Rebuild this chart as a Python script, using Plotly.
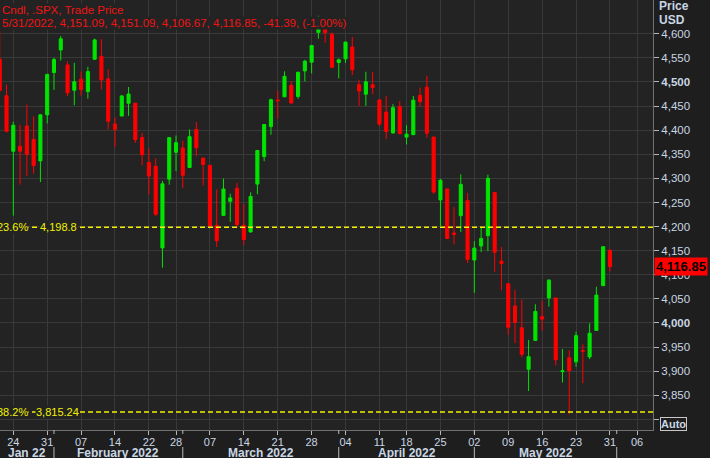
import plotly.graph_objects as go

# ---------------- data (S&P 500 daily candles) ----------------
dates = [
    "2022-01-20", "2022-01-21", "2022-01-24", "2022-01-25", "2022-01-26", "2022-01-27", "2022-01-28",
    "2022-01-31", "2022-02-01", "2022-02-02", "2022-02-03", "2022-02-04",
    "2022-02-07", "2022-02-08", "2022-02-09", "2022-02-10", "2022-02-11",
    "2022-02-14", "2022-02-15", "2022-02-16", "2022-02-17", "2022-02-18",
    "2022-02-22", "2022-02-23", "2022-02-24", "2022-02-25",
    "2022-02-28", "2022-03-01", "2022-03-02", "2022-03-03", "2022-03-04",
    "2022-03-07", "2022-03-08", "2022-03-09", "2022-03-10", "2022-03-11",
    "2022-03-14", "2022-03-15", "2022-03-16", "2022-03-17", "2022-03-18",
    "2022-03-21", "2022-03-22", "2022-03-23", "2022-03-24", "2022-03-25",
    "2022-03-28", "2022-03-29", "2022-03-30", "2022-03-31", "2022-04-01",
    "2022-04-04", "2022-04-05", "2022-04-06", "2022-04-07", "2022-04-08",
    "2022-04-11", "2022-04-12", "2022-04-13", "2022-04-14",
    "2022-04-18", "2022-04-19", "2022-04-20", "2022-04-21", "2022-04-22",
    "2022-04-25", "2022-04-26", "2022-04-27", "2022-04-28", "2022-04-29",
    "2022-05-02", "2022-05-03", "2022-05-04", "2022-05-05", "2022-05-06",
    "2022-05-09", "2022-05-10", "2022-05-11", "2022-05-12", "2022-05-13",
    "2022-05-16", "2022-05-17", "2022-05-18", "2022-05-19", "2022-05-20",
    "2022-05-23", "2022-05-24", "2022-05-25", "2022-05-26", "2022-05-27",
    "2022-05-31",
]
opens = [
    4547.35, 4471.38, 4356.32, 4366.64, 4408.43, 4380.58, 4336.19,
    4431.79, 4519.57, 4566.39, 4535.41, 4482.79,
    4505.75, 4480.02, 4547.00, 4553.24, 4506.27,
    4412.61, 4429.28, 4455.75, 4456.06, 4384.57,
    4332.74, 4324.93, 4155.77, 4298.38,
    4354.17, 4363.14, 4322.56, 4401.31, 4342.12,
    4327.01, 4202.66, 4223.10, 4252.55, 4279.50,
    4202.75, 4188.82, 4288.14, 4345.11, 4407.34,
    4462.40, 4469.10, 4493.10, 4469.98, 4522.91,
    4541.09, 4602.86, 4624.20, 4599.02, 4540.32,
    4547.97, 4572.45, 4494.17, 4474.65, 4494.15,
    4462.64, 4437.59, 4394.30, 4449.12,
    4385.63, 4390.63, 4472.26, 4489.17, 4385.83,
    4255.34, 4278.14, 4186.52, 4222.58, 4253.75,
    4130.61, 4159.78, 4181.18, 4270.43, 4128.17,
    4081.27, 4035.18, 3990.08, 3903.95, 3963.90,
    4013.02, 4052.00, 4051.98, 3899.00, 3927.76,
    3919.42, 3942.94, 3929.59, 3984.60, 4077.43,
    4151.09,
]
highs = [
    4602.11, 4494.52, 4417.35, 4411.01, 4453.23, 4428.74, 4432.72,
    4516.89, 4550.49, 4595.31, 4542.88, 4539.66,
    4521.86, 4531.32, 4590.03, 4588.92, 4526.33,
    4426.22, 4472.77, 4489.55, 4456.06, 4394.60,
    4362.12, 4341.51, 4294.73, 4385.34,
    4388.84, 4378.45, 4401.48, 4416.78, 4342.12,
    4327.01, 4276.94, 4299.40, 4268.28, 4291.01,
    4247.57, 4271.05, 4357.86, 4412.67, 4465.40,
    4481.75, 4522.00, 4501.07, 4520.58, 4546.03,
    4575.65, 4637.30, 4627.77, 4603.07, 4548.70,
    4583.50, 4593.45, 4503.94, 4521.16, 4520.41,
    4464.35, 4471.00, 4453.92, 4460.46,
    4410.31, 4471.03, 4488.29, 4512.94, 4385.83,
    4299.02, 4278.14, 4240.71, 4308.45, 4269.68,
    4169.81, 4200.10, 4307.66, 4270.43, 4157.69,
    4081.27, 4068.82, 4049.09, 3964.80, 4038.88,
    4046.46, 4090.72, 4051.98, 3945.96, 3943.42,
    3981.88, 3955.68, 3999.33, 4075.14, 4158.49,
    4151.09,
]
lows = [
    4477.95, 4395.34, 4222.62, 4287.11, 4304.80, 4309.50, 4292.46,
    4414.02, 4483.53, 4544.32, 4470.39, 4451.50,
    4471.47, 4465.40, 4547.00, 4484.31, 4401.41,
    4364.84, 4429.28, 4429.68, 4373.81, 4327.22,
    4267.11, 4221.51, 4114.65, 4286.83,
    4315.12, 4279.54, 4322.56, 4345.56, 4284.98,
    4199.85, 4157.87, 4223.10, 4209.80, 4200.49,
    4161.72, 4187.90, 4267.22, 4335.65, 4390.57,
    4424.30, 4469.10, 4455.81, 4465.17, 4501.07,
    4517.69, 4589.66, 4581.32, 4530.41, 4507.57,
    4539.21, 4514.17, 4450.04, 4450.30, 4474.60,
    4408.38, 4381.34, 4392.70, 4394.59,
    4370.30, 4390.63, 4448.76, 4384.47, 4267.62,
    4200.82, 4175.04, 4162.90, 4188.63, 4124.28,
    4062.51, 4147.08, 4148.91, 4106.01, 4067.91,
    3975.48, 3958.17, 3928.82, 3858.87, 3963.90,
    3983.99, 4033.93, 3911.91, 3876.58, 3810.32,
    3909.04, 3875.13, 3925.03, 3984.60, 4077.43,
    4106.67,
]
closes = [
    4482.73, 4397.94, 4410.13, 4356.45, 4349.93, 4326.51, 4431.85,
    4515.55, 4546.54, 4589.38, 4477.44, 4500.53,
    4483.87, 4521.54, 4587.18, 4504.08, 4418.64,
    4401.67, 4471.07, 4475.01, 4380.26, 4348.87,
    4304.76, 4225.50, 4288.70, 4384.65,
    4373.94, 4306.26, 4386.54, 4363.49, 4328.87,
    4201.09, 4170.70, 4277.88, 4259.52, 4204.31,
    4173.11, 4262.45, 4357.86, 4411.67, 4463.12,
    4461.18, 4511.61, 4456.24, 4520.16, 4543.06,
    4575.52, 4631.60, 4602.45, 4530.41, 4545.86,
    4582.64, 4525.12, 4481.15, 4500.21, 4488.28,
    4412.53, 4397.45, 4446.59, 4392.59,
    4391.69, 4462.21, 4459.45, 4393.66, 4271.78,
    4296.12, 4175.20, 4183.96, 4287.50, 4131.93,
    4155.38, 4175.48, 4300.17, 4146.87, 4123.34,
    3991.24, 4001.05, 3935.18, 3930.08, 4023.89,
    4008.01, 4088.85, 3923.68, 3900.79, 3901.36,
    3973.75, 3941.48, 3978.73, 4057.84, 4158.24,
    4116.85,
]

# empty trading days shown to the right of the last candle
future_days = ["2022-06-01", "2022-06-02", "2022-06-03", "2022-06-06", "2022-06-07", "2022-06-08"]

# weekly tick days and their labels
week_ticks = ["2022-01-24", "2022-01-31", "2022-02-07", "2022-02-14", "2022-02-22", "2022-02-28",
              "2022-03-07", "2022-03-14", "2022-03-21", "2022-03-28", "2022-04-04", "2022-04-11",
              "2022-04-18", "2022-04-25", "2022-05-02", "2022-05-09", "2022-05-16", "2022-05-23",
              "2022-05-31", "2022-06-06"]
week_labels = ["24", "31", "07", "14", "22", "28", "07", "14", "21", "28", "04", "11",
               "18", "25", "02", "09", "16", "23", "31", "06"]

month_starts = ["2022-02-01", "2022-03-01", "2022-04-01", "2022-05-02", "2022-06-01"]
month_names = ["Jan 22", "February 2022", "March 2022", "April 2022", "May 2022"]

fib_names = ["23.6%", "38.2%"]
fib_levels = [4198.8, 3815.24]
fib_texts = ["4,198.8", "3,815.24"]

y_ticks = [3800, 3850, 3900, 3950, 4000, 4050, 4100, 4150, 4200, 4250, 4300, 4350,
           4400, 4450, 4500, 4550, 4600]

title_line1 = "Cndl, .SPX, Trade Price"
title_line2 = "5/31/2022, 4,151.09, 4,151.09, 4,106.67, 4,116.85, -41.39, (-1.00%)"
last_price = 4116.85

# ---------------- styling ----------------
PLOT_BG = "#232323"
PAPER_BG = "#1e1e1e"
GRID = "#393939"
AXIS = "#707070"
LABEL = "#c9d6e4"
GREEN = "#00e400"
RED = "#ff0000"
YELLOW = "#f2f200"
FONT = "Liberation Sans"

axis_days = dates + future_days
pos = {d: i for i, d in enumerate(axis_days)}
xs = [pos[d] for d in dates]

PLOT_H = 430.0  # plot height in px (for paper coords of the lower label row)

fig = go.Figure()
fig.add_trace(go.Candlestick(
    x=xs, open=opens, high=highs, low=lows, close=closes,
    increasing=dict(line=dict(color=GREEN, width=1), fillcolor=GREEN),
    decreasing=dict(line=dict(color=RED, width=1), fillcolor=RED),
    whiskerwidth=0, showlegend=False, hoverinfo="skip",
))

x_start, x_end = 0.04, 96.35

def fmt(v):
    s = f"{v:,.0f}"
    if v in (4000, 4500):
        return f"<b>{s}</b>"
    if v == 3800:
        return ""
    return s

annotations = []
shapes = []

# fibonacci lines and labels
for name, lvl, txt, shift in zip(fib_names, fib_levels, fib_texts, [39, 35]):
    shapes.append(dict(type="line", xref="paper", x0=0, x1=1, yref="y", y0=lvl, y1=lvl,
                       line=dict(color=YELLOW, width=1.5, dash="5px,3px"), layer="above"))
    annotations.append(dict(xref="paper", x=0, xanchor="left", xshift=-4, yref="y", y=lvl,
                            yanchor="middle", text=name, showarrow=False, bgcolor=PLOT_BG,
                            borderpad=0, font=dict(family=FONT, size=11, color=YELLOW)))
    annotations.append(dict(xref="paper", x=0, xanchor="left", xshift=shift, yref="y", y=lvl,
                            yanchor="middle", text=txt, showarrow=False, bgcolor=PLOT_BG,
                            borderpad=0, font=dict(family=FONT, size=11, color=YELLOW)))

# month separators and month names
for ms in month_starts:
    xv = pos[ms]
    shapes.append(dict(type="line", xref="x", x0=xv, x1=xv, yref="paper", y0=0, y1=-4 / PLOT_H,
                       line=dict(color="#b8b8b8", width=1)))
    shapes.append(dict(type="line", xref="x", x0=xv, x1=xv, yref="paper", y0=-17 / PLOT_H,
                       y1=-28 / PLOT_H, line=dict(color="#b8b8b8", width=1)))
bounds = [x_start] + [pos[m] for m in month_starts]
for i, name in enumerate(month_names):
    cx = (bounds[i] + bounds[i + 1]) / 2
    annotations.append(dict(xref="x", x=cx, yref="paper", y=-23 / PLOT_H, yanchor="middle",
                            xanchor="center", text=f"<b>{name}</b>", showarrow=False,
                            font=dict(family=FONT, size=12, color=LABEL)))

# title lines with background boxes
annotations.append(dict(xref="paper", x=0, xanchor="left", xshift=1, yref="paper",
                        y=1 - 10 / PLOT_H, yanchor="middle", text=title_line1, showarrow=False,
                        bgcolor=PLOT_BG, borderpad=0,
                        font=dict(family=FONT, size=11.5, color="#f01414")))
annotations.append(dict(xref="paper", x=0, xanchor="left", xshift=1, yref="paper",
                        y=1 - 23 / PLOT_H, yanchor="middle", text=title_line2, showarrow=False,
                        bgcolor=PLOT_BG, borderpad=0,
                        font=dict(family=FONT, size=11.5, color="#f01414")))

# axis header
annotations.append(dict(xref="paper", x=1, xanchor="left", xshift=4, yref="paper",
                        y=1 - 6 / PLOT_H, yanchor="middle", text="<b>Price</b>", showarrow=False,
                        font=dict(family=FONT, size=12, color=LABEL)))
annotations.append(dict(xref="paper", x=1, xanchor="left", xshift=4, yref="paper",
                        y=1 - 20 / PLOT_H, yanchor="middle", text="<b>USD</b>", showarrow=False,
                        font=dict(family=FONT, size=12, color=LABEL)))

# last price tag
annotations.append(dict(xref="paper", x=1, xanchor="left", xshift=1, yref="y", y=last_price,
                        yanchor="middle", text=f"<b>{last_price:,.2f}</b>", showarrow=False,
                        bgcolor=RED, borderpad=1,
                        font=dict(family=FONT, size=13, color="#000000")))

# Auto button
annotations.append(dict(xref="paper", x=1, xanchor="left", xshift=7, yref="paper",
                        y=6 / PLOT_H, yanchor="middle", text="<b>Auto</b>", showarrow=False,
                        bordercolor="#c8c8c8", borderwidth=1, borderpad=0, bgcolor=PAPER_BG,
                        font=dict(family=FONT, size=11, color=LABEL)))

fig.update_layout(
    width=710, height=458, autosize=False,
    margin=dict(l=0, r=57, t=0, b=28, pad=0),
    paper_bgcolor=PAPER_BG, plot_bgcolor=PLOT_BG,
    showlegend=False, boxgap=0.35, hovermode=False,
    annotations=annotations, shapes=shapes,
    xaxis=dict(
        range=[x_start, x_end], rangeslider=dict(visible=False),
        tickmode="array", tickvals=[pos[d] for d in week_ticks], ticktext=week_labels,
        ticks="outside", ticklen=4, tickcolor="#b8b8b8", ticklabelstandoff=-2,
        tickfont=dict(family=FONT, size=11, color=LABEL),
        showgrid=True, gridcolor=GRID, gridwidth=1, zeroline=False,
        showline=True, linecolor=AXIS, linewidth=1,
    ),
    yaxis=dict(
        side="right", range=[3778, 4670],
        tickmode="array", tickvals=y_ticks, ticktext=[fmt(v) for v in y_ticks],
        ticks="outside", ticklen=5, tickcolor="#b8b8b8",
        tickfont=dict(family=FONT, size=11.5, color=LABEL),
        showgrid=True, gridcolor=GRID, gridwidth=1, zeroline=False,
        showline=True, linecolor=AXIS, linewidth=1,
    ),
)

# remove the browser's default 8px page margin so the chart fills the window
fig.write_html(
    "out.html",
    config={"displayModeBar": False},
    post_script="document.body.style.margin='0';document.body.style.background='%s';" % PAPER_BG,
)
